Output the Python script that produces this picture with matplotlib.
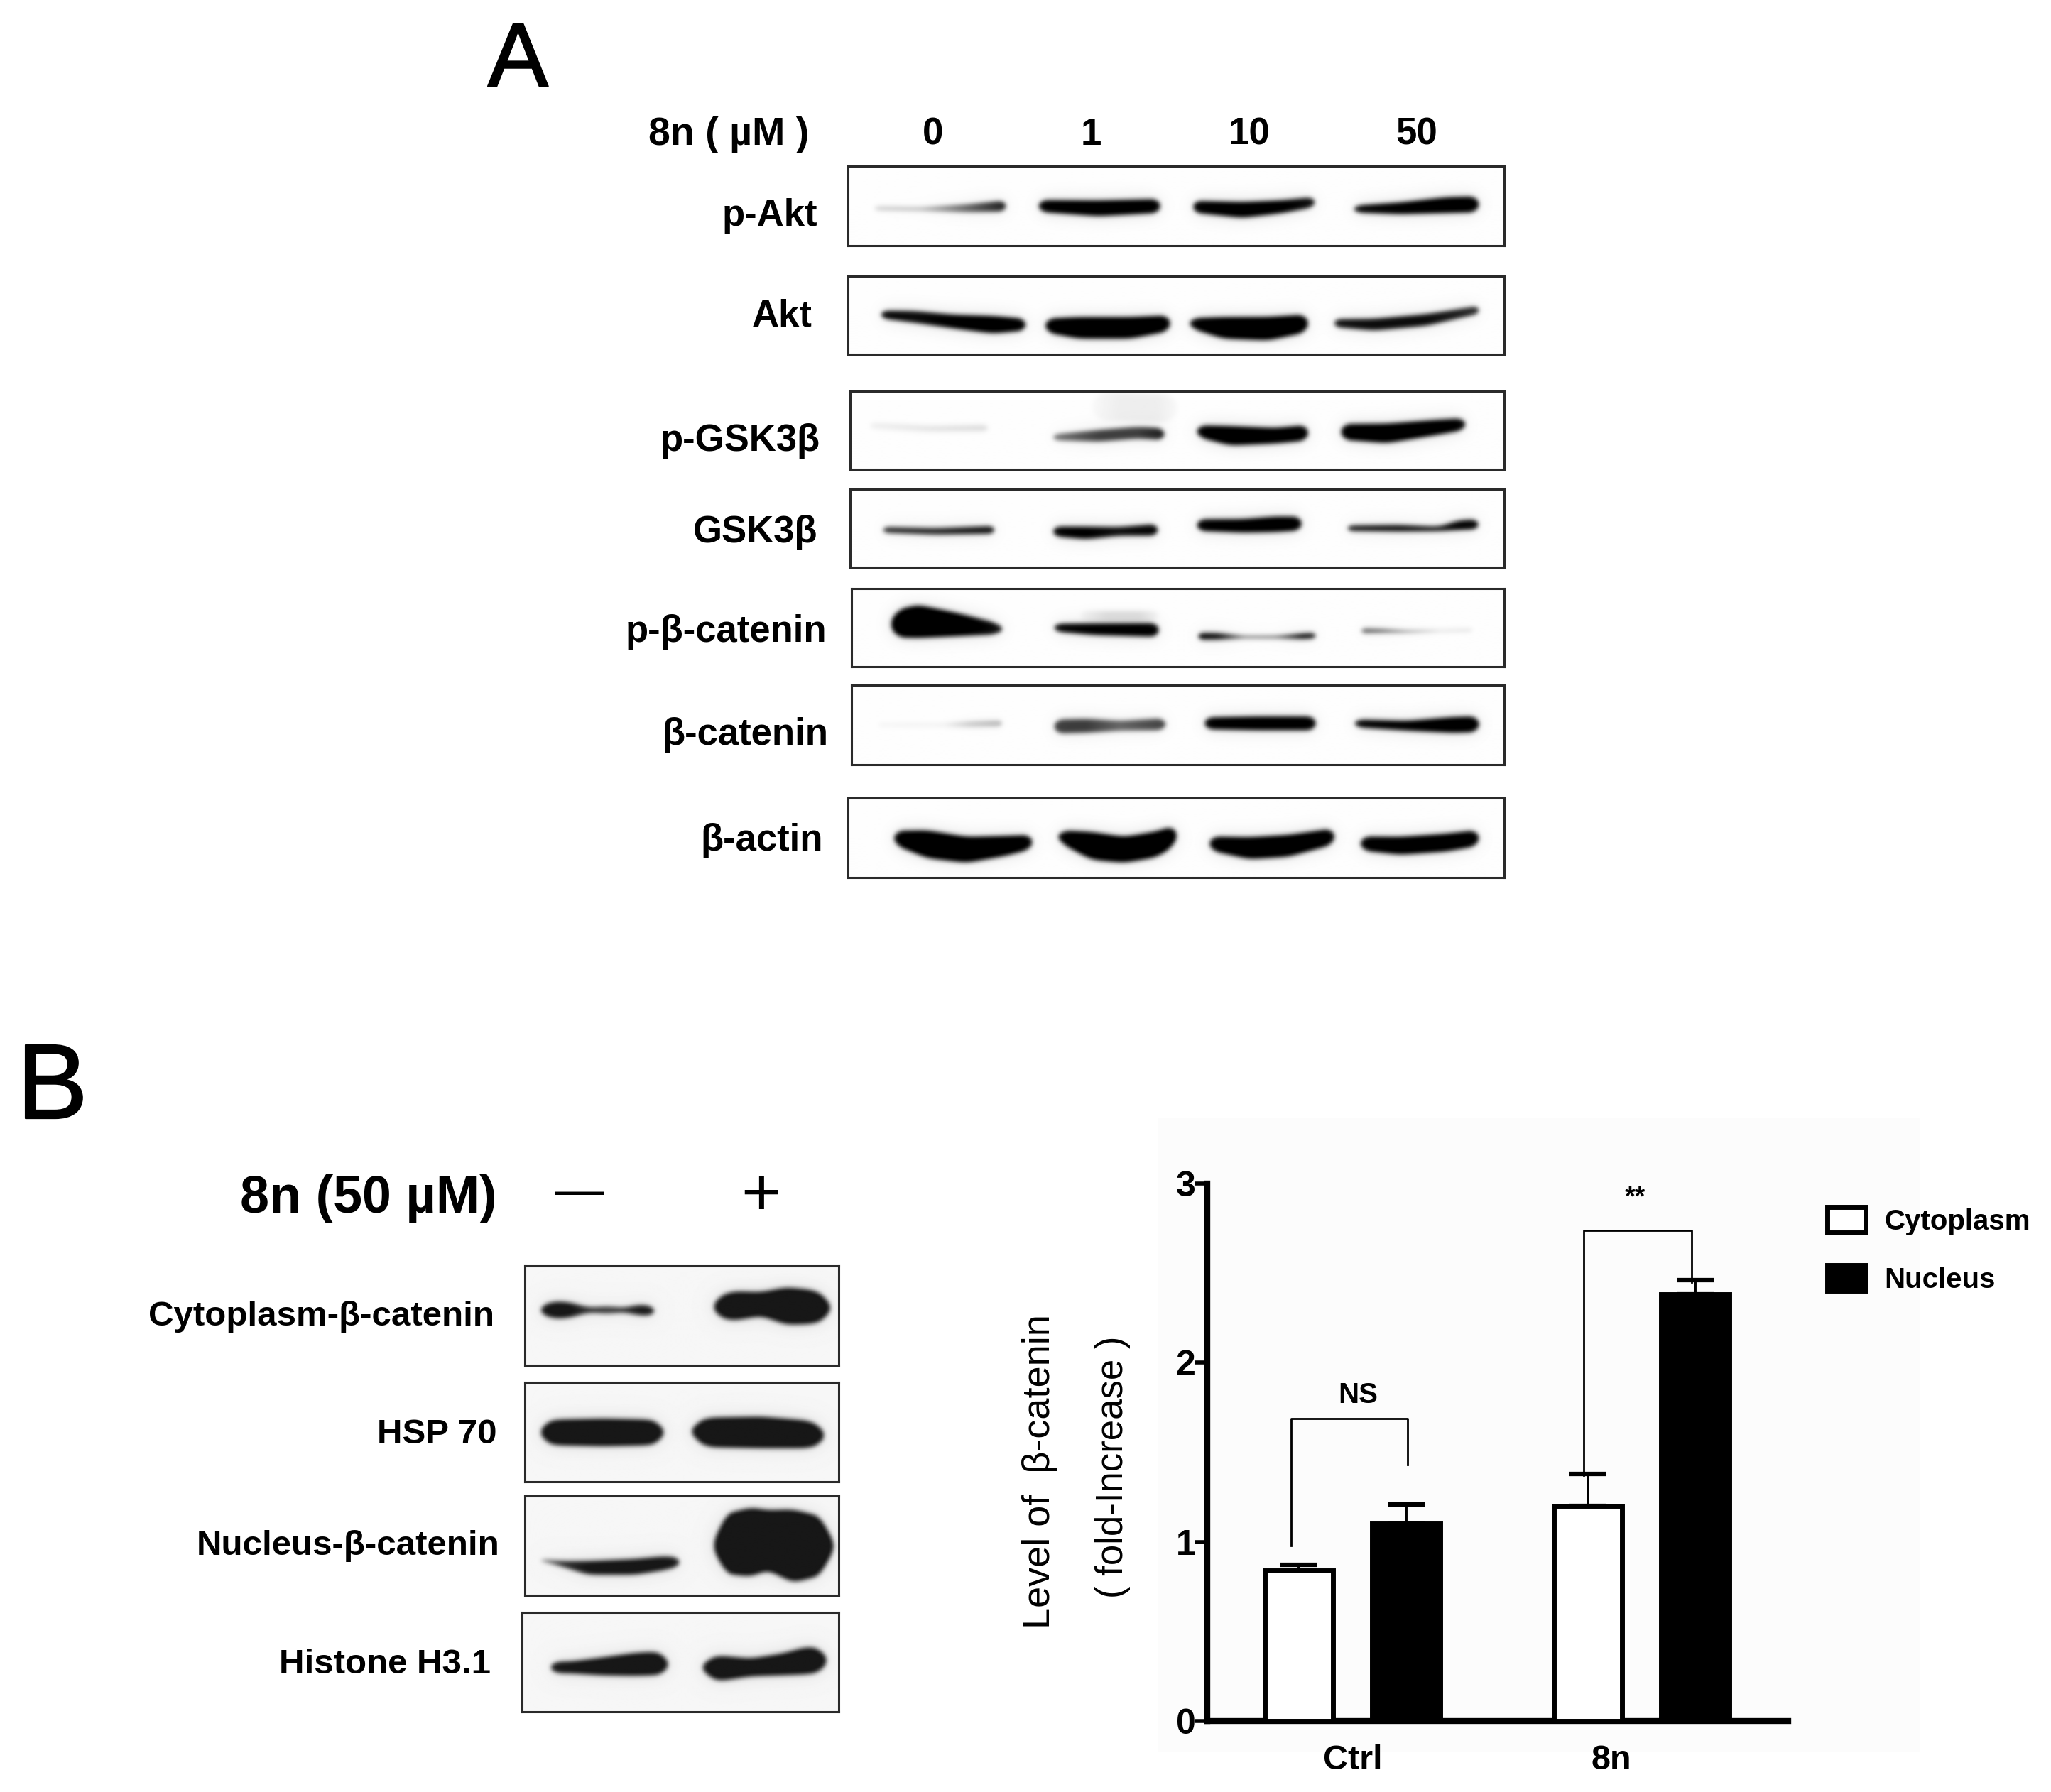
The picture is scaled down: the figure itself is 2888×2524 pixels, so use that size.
import numpy as np
import matplotlib
matplotlib.use("Agg")
import matplotlib.pyplot as plt
from matplotlib.patches import Patch, Rectangle
from matplotlib import patheffects as pe

plt.rcParams['font.family'] = ['Liberation Sans', 'DejaVu Sans']

# ---------- data: bar chart ----------
groups = ["Ctrl", "8n"]
series = ["Cytoplasm", "Nucleus"]
cytoplasm = [0.84, 1.20]
nucleus = [1.10, 2.38]
cytoplasm_err = [0.03, 0.18]
nucleus_err = [0.11, 0.08]

# ---------- data: blot bands, each point = (x %, y %, half-thickness %, darkness) ----------
p_akt = [
    [(4,53,2,.2),(11,54,2,.25),(18,53,4,.6),(24,50,5.5,.9)],
    [(29,50,6,1),(38,53,8,1),(47.5,50,7,1)],
    [(52.5,51,6,1),(60,55,8,1),(66,51,6.5,1),(71,45,5,.95)],
    [(77,54,3.5,1),(84,53,6,1),(91,49,8,1),(96,48,8,1)],
]
akt = [
    [(5,49,4,1),(10,52,6,.95),(16,58,7,1),(22,62,9,1),(27,62,6,1)],
    [(30,63,7,1),(35,66,11,1),(43,66,11,1),(49,60,8,1)],
    [(52,60,5,1),(57,66,11,1),(64,67,12,1),(70,60,9,1)],
    [(74,60,4,.95),(80,62,6,.95),(88,56,6,.95),(96,43,4,.85)],
]
p_gsk = [
    [(3,44,3,.06),(12,48,3,.1),(21,47,3,.14)],
    [(37,20,14,.02),(41,20,14,.06),(47,22,14,.06),(50,22,14,.02)],
    [(31,59,3,.55),(38,57,6,.75),(44,53,6,.75),(48,55,6,.9)],
    [(53,51,6,1),(58,57,10,1),(65,57,8,1),(70,53,8,1)],
    [(75,52,8,1),(82,54,10,1),(89,47,8,1),(94,42,6,1)],
]
gsk = [
    [(5,52,3,.85),(13,54,3.5,.85),(22,52,4,.95)],
    [(31,54,5,1),(36,56,6.5,1),(41,54,4.5,.95),(47,52,6,1)],
    [(53,46,6,1),(60,47,7,1),(65,45,8,1),(69,44,7,1)],
    [(76,50,3,.9),(84,50,3.5,.95),(90,51,2.5,.9),(93,46,5,1),(96,45,5,1)],
]
p_bcat = [
    [(6,46,13,1),(10,42,17,1),(16,46,12,1),(23,52,5,.95)],
    [(31,50,4,1),(37,52,6,1),(47,53,7,1)],
    [(35,35,5,.03),(39,35,5,.12),(44,35,5,.12),(47,35,5,.03)],
    [(53,61,3.5,1),(56,61,3.5,.95),(60,62,1.5,.5),(65,62,1.5,.55),(69,61,3,.95),(71,60,3,.9)],
    [(78,54,2.5,.65),(81,54,2,.6),(85,55,1.5,.35),(90,54,1.5,.1),(95,53,1.5,.12)],
]
bcat = [
    [(4,50,2,.04),(14,50,2,.05),(18,49,3,.2),(23,48,3,.3)],
    [(31,52,7,.75),(36,51,7,.75),(41,51,5,.6),(48,49,6,.75)],
    [(54,48,6,1),(62,48,7,1),(71,48,7,1)],
    [(77,48,4,1),(85,51,5,1),(92,50,8,1),(96,49,8,1)],
]
bactin = [
    [(7,50,7,1),(12,58,14,1),(18,65,13,1),(24,60,10,1),(28,55,7,1)],
    [(32,48,6,1),(37,60,14,1),(42,65,13,1),(47,58,13,1),(50,46,10,1)],
    [(55,57,7,1),(61,63,11,1),(67,60,11,1),(74,48,8,1)],
    [(78,57,7,1),(84,60,9,1),(91,56,9,1),(96,50,8,1)],
]
cyto_bcat = [
    [(5,44,4,1),(9,44,9,1),(14,44,8,1),(20,44,2.5,.9),(27,44,4,.85),(31,44,2,.9),(37,44,6,1),(41,45,4,1)],
    [(60,41,9,1),(66,40,15,1),(75,38,12,1),(83,40,19,1),(92,41,17,1),(97,42,9,1)],
]
hsp70 = [
    [(5,50,8,1),(9,50,13,1),(25,50,14,1),(40,50,13,1),(44,50,8,1)],
    [(53,49,7,1),(58,50,15,1),(75,50,16,1),(90,52,14,1),(95,53,8,1)],
]
nuc_bcat = [
    [(5,64,1,.5),(12,68,3,.9),(20,72,7,1),(35,71,8,1),(45,67,7,1),(49,66,4,1)],
    [(60,50,15,1),(63,48,30,1),(72,46,35,1),(77,44,30,1),(85,50,37,1),(94,50,30,1),(98,50,15,1)],
]
histone = [
    [(9,55,6,1),(15,55,6,1),(25,54,9,1),(35,52,11.5,1),(42,51,12,1),(46,52,9,1)],
    [(57,55,8,1),(62,56,13,1),(72,55,9,1),(82,52,11,1),(90,48,14,1),(96,48,11,1)],
]

doses = ["0", "1", "10", "50"]
labels_a = ["p-Akt", "Akt", "p-GSK3β", "GSK3β", "p-β-catenin", "β-catenin", "β-actin"]
labels_b = ["Cytoplasm-β-catenin", "HSP 70", "Nucleus-β-catenin", "Histone H3.1"]

# ---------- layout (reference px at 1568 wide) ----------
SC = 2888 / 1568
W, H = 2888, 2524
fig = plt.figure(figsize=(W / 100, H / 100), dpi=100, facecolor="white")


def fx(x):
    return x * SC / W


def fy(y):
    return 1 - y * SC / H


def gauss(a, s):
    r = int(s * 3) + 1
    k = np.exp(-0.5 * (np.arange(-r, r + 1) / s) ** 2)
    k /= k.sum()
    a = np.apply_along_axis(lambda c: np.convolve(c, k, mode="same"), 0, a)
    a = np.apply_along_axis(lambda c: np.convolve(c, k, mode="same"), 1, a)
    return a


def smooth1(v, s):
    r = int(s * 3) + 1
    k = np.exp(-0.5 * (np.arange(-r, r + 1) / s) ** 2)
    k /= k.sum()
    return np.convolve(np.pad(v, r, mode="edge"), k, mode="valid")


def render(bands, w, h, bg, ink, grow):
    yy = np.arange(h, dtype=float)[:, None]
    keep = np.ones((h, w))
    col = np.arange(w, dtype=float)
    for band in bands:
        b = np.array(band, float)
        xs = b[:, 0] / 100 * w
        yc = smooth1(np.interp(col, xs, b[:, 1] / 100 * h), 8)
        hw = smooth1(np.interp(col, xs, b[:, 2] / 100 * h), 8) * grow
        dk = np.interp(col, xs, b[:, 3])
        r = max(b[0, 2], b[-1, 2]) / 100 * h + 6
        dl = np.clip((col - xs[0]) / r, 0, 1)
        dr = np.clip((xs[-1] - col) / r, 0, 1)
        taper = np.sqrt(np.clip(1 - (1 - np.minimum(dl, dr)) ** 2, 0, 1))
        inside = (col >= xs[0]) & (col <= xs[-1])
        t = ((hw * taper)[None, :] - np.abs(yy - yc[None, :])) / 1.5
        d = np.clip(t * .5 + .5, 0, 1) * (dk * inside)[None, :]
        keep *= 1 - d
    D = 1 - keep
    D = gauss(D, 3.0) * .9 + gauss(D, 12) * .12
    D = np.clip(D * 1.05, 0, 1)
    return bg * (1 - D) + ink * D


def blot(box, bands, bg=.995, ink=0.0, lw=2.2, grow=1.0):
    x0, x1, y0, y1 = box
    ax = fig.add_axes([fx(x0), fy(y1), fx(x1 - x0), (y1 - y0) * SC / H])
    w, h = int((x1 - x0) * SC), int((y1 - y0) * SC)
    ax.imshow(render(bands, w, h, bg, ink, grow), cmap="gray", vmin=0, vmax=1,
              aspect="auto", interpolation="bilinear")
    ax.set_xticks([])
    ax.set_yticks([])
    for s in ax.spines.values():
        s.set_linewidth(lw)
        s.set_color("#2a2a2a")
    return ax


def T(x, y, s, size, ha="center", weight="bold", **kw):
    stroke = kw.pop("stroke", 0)
    t = fig.text(fx(x), fy(y), s, fontsize=size, ha=ha, va="center", fontweight=weight, color="black", **kw)
    if stroke:
        t.set_path_effects([pe.withStroke(linewidth=stroke, foreground="black")])
    return t


# background of chart area
fig.add_artist(Rectangle((fx(885), fy(1340)), fx(1468 - 885), (1340 - 855) * SC / H,
                         transform=fig.transFigure, facecolor="#fcfcfc", edgecolor="none", zorder=-5))

# ---------- panel A ----------
T(396, 48, "A", 92, stroke=1.5, weight="normal")
T(557, 103, "8n ( µM )", 40)
for x, d in zip([713, 834, 955, 1083], doses):
    T(x, 103, d, 38)
boxes_a = [(648, 1150, 127, 188), (648, 1150, 211, 271), (650, 1150, 299, 359),
           (650, 1150, 374, 434), (651, 1150, 450, 510), (651, 1150, 524, 585),
           (648, 1150, 610, 671)]
bands_a = [p_akt, akt, p_gsk, gsk, p_bcat, bcat, bactin]
lab_a = [(625, 165), (621, 242), (627, 337), (625, 407), (632, 483), (633, 562), (629, 643)]
for b, bd, s, (lx, ly) in zip(boxes_a, bands_a, labels_a, lab_a):
    blot(b, bd, grow=1.25)
    T(lx, ly, s, 38, ha="right")

# ---------- panel B left ----------
T(40, 834, "B", 108, stroke=1.5, weight="normal")
T(380, 917, "8n (50 µM)", 53, ha="right")
T(443, 912, "—", 50, weight="normal")
T(582, 916, "+", 70, weight="normal")
boxes_b = [(401, 641, 968, 1044), (401, 641, 1057, 1133), (401, 641, 1144, 1220), (399, 641, 1233, 1309)]
bands_b = [cyto_bcat, hsp70, nuc_bcat, histone]
lab_b = [(378, 1007), (380, 1097), (382, 1182), (375, 1273)]
for b, bd, s, (lx, ly) in zip(boxes_b, bands_b, labels_b, lab_b):
    blot(b, bd, bg=.965, ink=.09)
    T(lx, ly, s, 35.5, ha="right")

# ---------- bar chart ----------
ax = fig.add_axes([fx(923), fy(1316), fx(1367 - 923), 411 * SC / H])
ax.patch.set_alpha(0)
ax.set_ylim(0, 3)
ax.set_xlim((923 - 1034) / 221, (1367 - 1034) / 221)
w = 52 / 221
off = 41 / 221
centers = np.arange(2.0)
lw = 5
ax.bar(centers - off, cytoplasm, w, facecolor="white", edgecolor="black", linewidth=lw, zorder=3)
ax.bar(centers + off, nucleus, w, facecolor="black", edgecolor="black", linewidth=lw, zorder=3)
ek = dict(fmt="none", ecolor="black", elinewidth=2.8, capsize=19, capthick=4.5, zorder=2)
ax.errorbar(centers - off, cytoplasm, yerr=[[0, 0], cytoplasm_err], **ek)
ax.errorbar(centers + off, nucleus, yerr=[[0, 0], nucleus_err], **ek)
for s in ("top", "right"):
    ax.spines[s].set_visible(False)
for s in ("left", "bottom"):
    ax.spines[s].set_linewidth(6)
ax.set_yticks([0, 1, 2, 3])
ax.set_yticklabels(["0", "1", "2", "3"], fontsize=36, fontweight="bold")
ax.tick_params(axis="y", length=12, width=4, pad=0)
ax.set_xticks([0, 198 / 221])
ax.set_xticklabels(groups, fontsize=35, fontweight="bold")
ax.tick_params(axis="x", length=0, pad=24)
ax.plot([-0.213, -0.213, 0.19, 0.19], [0.98, 1.686, 1.686, 1.43], color="black", lw=2)
ax.plot([0.80, 0.80, 1.172, 1.172], [1.37, 2.737, 2.737, 2.45], color="black", lw=2)
ax.text(0.02, 1.82, "NS", ha="center", va="center", fontsize=29, fontweight="bold")
ax.text(0.977, 2.92, "**", ha="center", va="center", fontsize=27, fontweight="bold", clip_on=False)
handles = [Patch(facecolor="white", edgecolor="black", linewidth=5, label=series[0]),
           Patch(facecolor="black", edgecolor="black", linewidth=5, label=series[1])]
leg = ax.legend(handles=handles, loc="upper left", frameon=False,
                prop=dict(size=29, weight="bold"),
                bbox_to_anchor=(fx(1397), fy(923)), bbox_transform=fig.transFigure,
                handlelength=1.35, handleheight=1.0, labelspacing=1.05,
                handletextpad=0.65, borderpad=0, borderaxespad=0)

fig.text(fx(795), fy(1125), "Level of  β-catenin", rotation=90, ha="center", va="center", fontsize=39)
fig.text(fx(851), fy(1122), "( fold-Increase )", rotation=90, ha="center", va="center", fontsize=38)

fig.savefig("out.png", dpi=100)
